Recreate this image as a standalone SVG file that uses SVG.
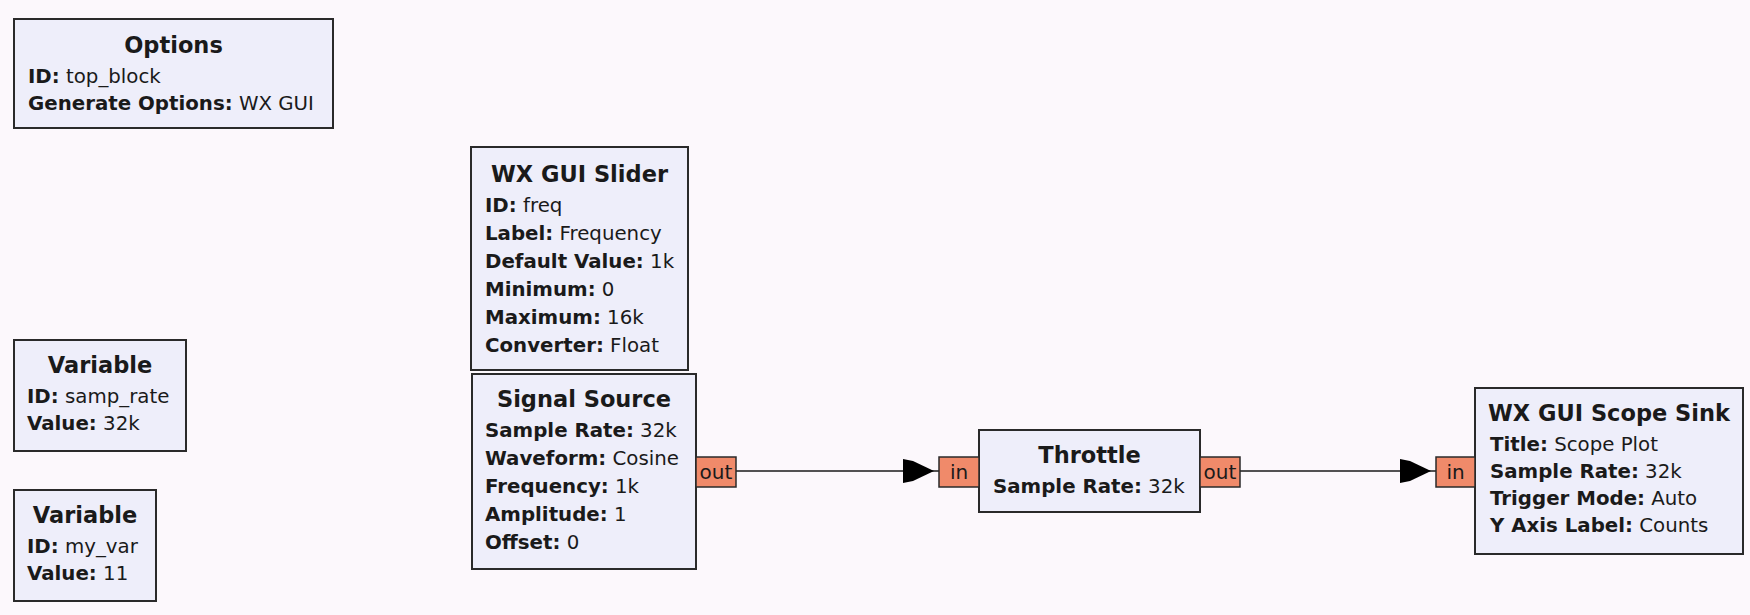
<svg xmlns="http://www.w3.org/2000/svg" width="1750" height="615" viewBox="0 0 1750 615">
  <style>
    .bg { fill: #fcf8fc; }
    .block { fill: #eeeefa; stroke: #2a2a2a; stroke-width: 2; }
    .port { fill: #f08a6a; stroke: #2a2a2a; stroke-width: 1.5; }
    text { font-family: "DejaVu Sans", "Liberation Sans", sans-serif; fill: #1a1a1a; }
    .title { font-size: 22.5px; font-weight: bold; text-anchor: middle; }
    .param { font-size: 19.8px; }
    .param tspan.k { font-weight: bold; }
    .plabel { font-size: 20px; text-anchor: middle; }
    .wire { stroke: #1a1a1a; stroke-width: 1.6; fill: none; }
    .arrow { fill: #000; }
  </style>
  <defs>
    <!-- arrowhead drawn with its tip at the origin, pointing right -->
    <polygon id="head" class="arrow" points="-31,-12 -21,-10 0,0 -21,10 -31,12"/>
  </defs>

  <rect class="bg" x="0" y="0" width="1750" height="615"/>

  <!-- connectors -->
  <g id="connections">
    <g id="conn-src-throttle">
      <line class="wire" x1="736" y1="471" x2="939" y2="471"/>
      <use href="#head" x="934" y="471"/>
    </g>
    <g id="conn-throttle-scope">
      <line class="wire" x1="1240" y1="471" x2="1436" y2="471"/>
      <use href="#head" x="1431" y="471"/>
    </g>
  </g>

  <!-- Options block -->
  <g id="options">
    <rect class="block" x="14" y="19" width="319" height="109"/>
    <text class="title" x="173.5" y="53">Options</text>
    <text class="param" x="28" y="83"><tspan class="k">ID:</tspan> top_block</text>
    <text class="param" x="28" y="110"><tspan class="k">Generate Options:</tspan> WX GUI</text>
  </g>

  <!-- Variable samp_rate -->
  <g id="var-samp-rate">
    <rect class="block" x="14" y="340" width="172" height="111"/>
    <text class="title" x="100" y="373">Variable</text>
    <text class="param" x="27" y="403"><tspan class="k">ID:</tspan> samp_rate</text>
    <text class="param" x="27" y="430"><tspan class="k">Value:</tspan> 32k</text>
  </g>

  <!-- Variable my_var -->
  <g id="var-my-var">
    <rect class="block" x="14" y="490" width="142" height="111"/>
    <text class="title" x="85" y="523">Variable</text>
    <text class="param" x="27" y="553"><tspan class="k">ID:</tspan> my_var</text>
    <text class="param" x="27" y="580"><tspan class="k">Value:</tspan> 11</text>
  </g>

  <!-- WX GUI Slider -->
  <g id="slider-freq">
    <rect class="block" x="471" y="147" width="217" height="223"/>
    <text class="title" x="579.5" y="182">WX GUI Slider</text>
    <text class="param" x="485" y="212"><tspan class="k">ID:</tspan> freq</text>
    <text class="param" x="485" y="240"><tspan class="k">Label:</tspan> Frequency</text>
    <text class="param" x="485" y="268"><tspan class="k">Default Value:</tspan> 1k</text>
    <text class="param" x="485" y="296"><tspan class="k">Minimum:</tspan> 0</text>
    <text class="param" x="485" y="324"><tspan class="k">Maximum:</tspan> 16k</text>
    <text class="param" x="485" y="352"><tspan class="k">Converter:</tspan> Float</text>
  </g>

  <!-- Signal Source -->
  <g id="signal-source">
    <rect class="block" x="472" y="374" width="224" height="195"/>
    <text class="title" x="584" y="407">Signal Source</text>
    <text class="param" x="485" y="437"><tspan class="k">Sample Rate:</tspan> 32k</text>
    <text class="param" x="485" y="465"><tspan class="k">Waveform:</tspan> Cosine</text>
    <text class="param" x="485" y="493"><tspan class="k">Frequency:</tspan> 1k</text>
    <text class="param" x="485" y="521"><tspan class="k">Amplitude:</tspan> 1</text>
    <text class="param" x="485" y="549"><tspan class="k">Offset:</tspan> 0</text>
    <rect class="port" x="696" y="457" width="40" height="30"/>
    <text class="plabel" x="716" y="479">out</text>
  </g>

  <!-- Throttle -->
  <g id="throttle">
    <rect class="block" x="979" y="430" width="221" height="82"/>
    <text class="title" x="1089.5" y="463">Throttle</text>
    <text class="param" x="993" y="493"><tspan class="k">Sample Rate:</tspan> 32k</text>
    <rect class="port" x="939" y="457" width="40" height="30"/>
    <text class="plabel" x="959" y="479">in</text>
    <rect class="port" x="1200" y="457" width="40" height="30"/>
    <text class="plabel" x="1220" y="479">out</text>
  </g>

  <!-- WX GUI Scope Sink -->
  <g id="scope-sink">
    <rect class="block" x="1475" y="388" width="268" height="166"/>
    <text class="title" x="1609" y="421">WX GUI Scope Sink</text>
    <text class="param" x="1490" y="451"><tspan class="k">Title:</tspan> Scope Plot</text>
    <text class="param" x="1490" y="478"><tspan class="k">Sample Rate:</tspan> 32k</text>
    <text class="param" x="1490" y="505"><tspan class="k">Trigger Mode:</tspan> Auto</text>
    <text class="param" x="1490" y="532"><tspan class="k">Y Axis Label:</tspan> Counts</text>
    <rect class="port" x="1436" y="457" width="39" height="30"/>
    <text class="plabel" x="1455.5" y="479">in</text>
  </g>
</svg>
